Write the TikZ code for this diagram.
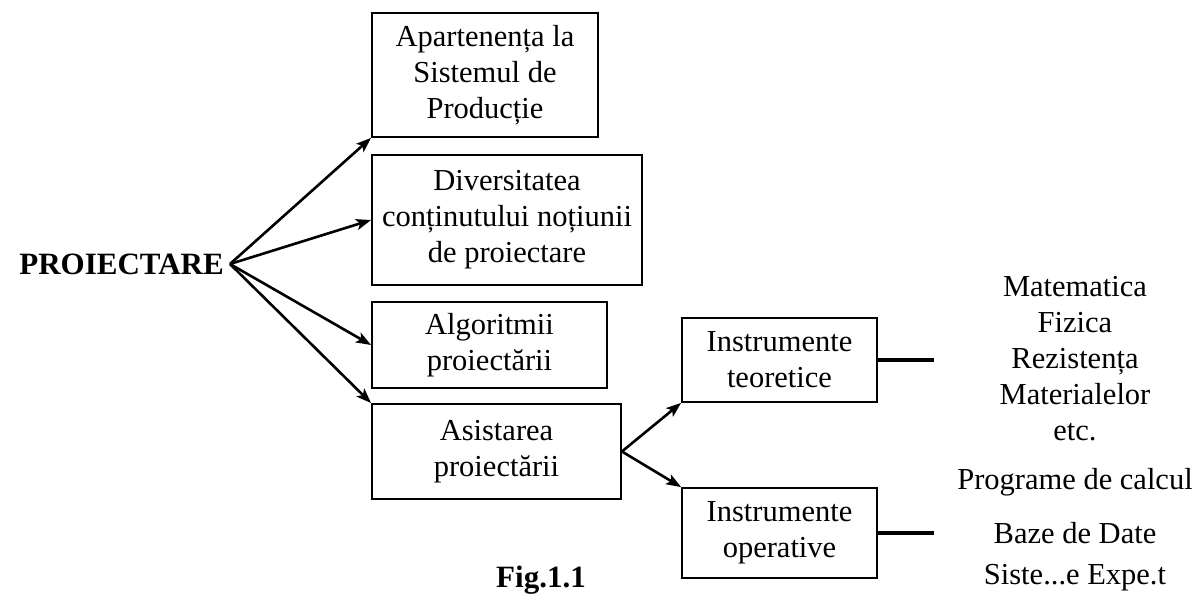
\documentclass[tikz,border=0pt]{standalone}
\usepackage{fontspec}
\setmainfont{Liberation Serif}
\usetikzlibrary{arrows.meta}
\begin{document}
\begin{tikzpicture}[x=1pt,y=-1pt,
  box/.style={draw,line width=1.8pt,inner sep=0pt,align=center,
    font=\fontsize{30.5}{36}\selectfont},
  link/.style={line width=2.6pt,-{Stealth[length=15pt,width=11pt,inset=3.5pt]}},
  stub/.style={line width=3.4pt},
  lbl/.style={inner sep=0pt,align=center,font=\fontsize{30.5}{36}\selectfont},
  title/.style={inner sep=0pt,font=\fontsize{31}{36}\selectfont\bfseries}]
\useasboundingbox (0,0) rectangle (1203,604);

% root of the tree
\node[title,anchor=east] (p) at (224,264) {PROIECTARE};
\coordinate (hub) at (230,264);

% first level
\node[box,minimum width=226pt,minimum height=124pt] (b1) at (485,75)
  {Apartenența la\\Sistemul de\\Producție};
\node[box,minimum width=270pt,minimum height=130pt] (b2) at (507,220)
  {Diversitatea\\conținutului noțiunii\\de proiectare};
\node[box,minimum width=235pt,minimum height=86pt] (b3) at (489.5,345)
  {Algoritmii\\proiectării};
\node[box,minimum width=249pt,minimum height=95pt] (b4) at (496.5,451.5)
  {Asistarea\\proiectării};

% second level
\node[box,minimum width=195pt,minimum height=84pt] (b5) at (779.5,360)
  {Instrumente\\teoretice};
\node[box,minimum width=195pt,minimum height=90pt] (b6) at (779.5,533)
  {Instrumente\\operative};

\draw[link] (hub) -- (b1.south west);
\draw[link] (hub) -- (b2.west);
\draw[link] (hub) -- (b3.west);
\draw[link] (hub) -- (b4.north west);
\draw[link] (b4.east) -- (b5.south west);
\draw[link] (b4.east) -- (b6.north west);

% short leads to the lists
\coordinate (e5) at (934,360);
\coordinate (e6) at (934,533);
\draw[stub] (b5.east) -- (e5);
\draw[stub] (b6.east) -- (e6);

\node[lbl] (t1) at (1075,359)
  {Matematica\\Fizica\\Rezistența\\Materialelor\\etc.};
\node[lbl] (t2) at (1075,482) {Programe de calcul};
\node[lbl] (t3) at (1075,533) {Baze de Date};
\node[lbl] (t4) at (1075,578) {Siste...e Expe.t};

\node[title] (fig) at (541,580) {Fig.1.1};
\end{tikzpicture}
\end{document}
